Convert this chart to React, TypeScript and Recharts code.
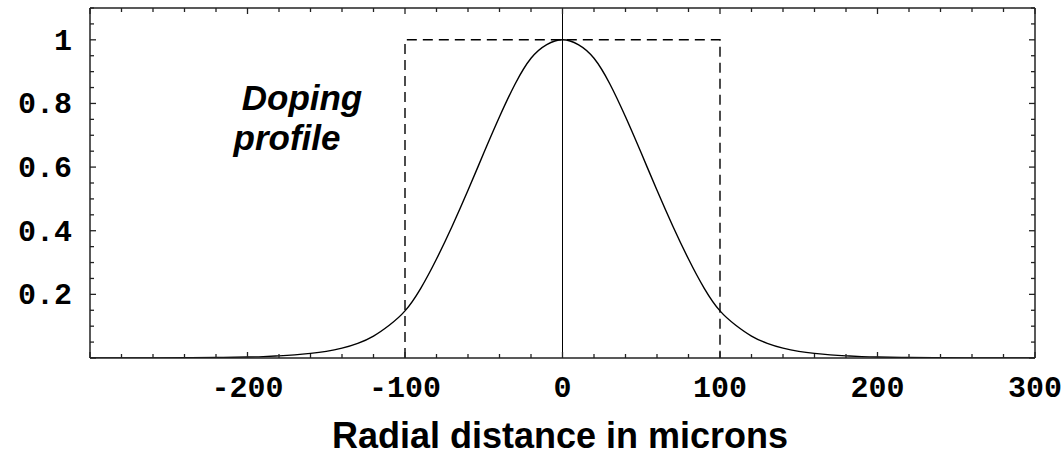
import React from 'react';
import { ComposedChart, Line, XAxis, YAxis, ReferenceLine } from 'recharts';

// Radial positions (microns) and the normalized doping profile
const xPositions = [
  -300, -280, -260, -240, -220, -200, -190, -180, -170, -160, -150, -140, -130, -120, -110,
  -100, -90, -80, -70, -60, -50, -40, -30, -20, -10, 0, 10, 20, 30, 40, 50, 60, 70, 80, 90,
  100, 110, 120, 130, 140, 150, 160, 170, 180, 190, 200, 220, 240, 260, 280, 300,
];
const profileValues = [
  0.0001, 0.0002, 0.0004, 0.0008, 0.0015, 0.003, 0.0044, 0.0066, 0.0098, 0.0145, 0.021, 0.031, 0.046, 0.069, 0.103,
  0.148, 0.219, 0.311, 0.415, 0.527, 0.644, 0.758, 0.862, 0.942, 0.985, 1.0, 0.985, 0.942, 0.862, 0.758, 0.644, 0.527, 0.415, 0.311, 0.219,
  0.148, 0.103, 0.069, 0.046, 0.031, 0.021, 0.0145, 0.0098, 0.0066, 0.0044, 0.003, 0.0015, 0.0008, 0.0004, 0.0002, 0.0001,
];

// Dashed step (rectangular) profile
const stepX = [-100, -100, 100, 100];
const stepY = [0, 1, 1, 0];

// Axis ticks and labels
const xTickValues = [
  -300, -280, -260, -240, -220, -200, -180, -160, -140, -120, -100, -80, -60, -40, -20, 0,
  20, 40, 60, 80, 100, 120, 140, 160, 180, 200, 220, 240, 260, 280, 300,
];
const xMajorValues = [-300, -200, -100, 0, 100, 200, 300];
const xLabelValues = [-200, -100, 0, 100, 200, 300];
const yTickValues = [
  0, 0.05, 0.1, 0.15, 0.2, 0.25, 0.3, 0.35, 0.4, 0.45, 0.5, 0.55, 0.6, 0.65, 0.7, 0.75, 0.8,
  0.85, 0.9, 0.95, 1, 1.05, 1.1,
];
const yMajorValues = [0, 0.2, 0.4, 0.6, 0.8, 1];
const yLabelValues = [0.2, 0.4, 0.6, 0.8, 1];
const yLabelText = ['0.2', '0.4', '0.6', '0.8', '1'];

const xTitle = 'Radial distance in microns';
const noteLines = ['Doping', 'profile'];

const profileData = xPositions.map((x, i) => ({ x, v: profileValues[i] }));
const stepData = stepX.map((x, i) => ({ x, s: stepY[i] }));

const FRAME = '#222';
const MAJOR = 6;
const MINOR = 4;
const monoStyle: React.CSSProperties = {
  fontFamily: '"Liberation Mono", "DejaVu Sans Mono", monospace',
  fontWeight: 700,
  fontSize: 30,
  fill: '#000',
};
const noteStyle: React.CSSProperties = {
  fontFamily: '"Liberation Sans", Arial, sans-serif',
  fontWeight: 700,
  fontStyle: 'italic',
  fontSize: 35,
  fill: '#000',
};

const near = (a: number, list: number[]) => list.some((b) => Math.abs(a - b) < 1e-6);

const BottomTick = (props: any) => {
  const { x, y, payload } = props;
  const v = payload.value;
  const len = near(v, xMajorValues) ? MAJOR : MINOR;
  return (
    <g>
      <line x1={x} x2={x} y1={y} y2={y - len} stroke={FRAME} strokeWidth={1.3} />
      {near(v, xLabelValues) && (
        <text x={x} y={y + 39} textAnchor="middle" style={monoStyle}>
          {String(v)}
        </text>
      )}
    </g>
  );
};

const TopTick = (props: any) => {
  const { x, y, payload } = props;
  const v = payload.value;
  const len = near(v, xMajorValues) ? MAJOR : MINOR;
  return <line x1={x} x2={x} y1={y} y2={y + len} stroke={FRAME} strokeWidth={1.3} />;
};

const LeftTick = (props: any) => {
  const { x, y, payload } = props;
  const v = payload.value;
  const len = near(v, yMajorValues) ? MAJOR : MINOR;
  const idx = yLabelValues.findIndex((b) => Math.abs(b - v) < 1e-6);
  return (
    <g>
      <line x1={x} x2={x + len} y1={y} y2={y} stroke={FRAME} strokeWidth={1.3} />
      {idx >= 0 && (
        <text x={x - 18} y={y + 10} textAnchor="end" style={monoStyle}>
          {yLabelText[idx]}
        </text>
      )}
    </g>
  );
};

const RightTick = (props: any) => {
  const { x, y, payload } = props;
  const v = payload.value;
  const len = near(v, yMajorValues) ? MAJOR : MINOR;
  return <line x1={x} x2={x - len} y1={y} y2={y} stroke={FRAME} strokeWidth={1.3} />;
};

export default function App() {
  return (
    <div style={{ position: 'absolute', left: 0, top: 0, width: 1063, height: 467, background: '#fff' }}>
      <ComposedChart width={1063} height={467} data={profileData} margin={{ top: 0, right: 0, bottom: 0, left: 0 }}>
        <XAxis
          xAxisId="b"
          dataKey="x"
          type="number"
          orientation="bottom"
          domain={[-300, 300]}
          ticks={xTickValues}
          interval={0}
          height={109}
          tickSize={0}
          tickMargin={0}
          tickLine={false}
          tick={<BottomTick />}
          axisLine={{ stroke: FRAME, strokeWidth: 1.5 }}
          allowDataOverflow
        />
        <XAxis
          xAxisId="t"
          dataKey="x"
          type="number"
          orientation="top"
          domain={[-300, 300]}
          ticks={xTickValues}
          interval={0}
          height={8}
          tickSize={0}
          tickMargin={0}
          tickLine={false}
          tick={<TopTick />}
          axisLine={{ stroke: FRAME, strokeWidth: 1.5 }}
          allowDataOverflow
        />
        <YAxis
          yAxisId="l"
          type="number"
          orientation="left"
          domain={[0, 1.1]}
          ticks={yTickValues}
          interval={0}
          width={90}
          tickSize={0}
          tickMargin={0}
          tickLine={false}
          tick={<LeftTick />}
          axisLine={{ stroke: FRAME, strokeWidth: 1.5 }}
          allowDataOverflow
        />
        <YAxis
          yAxisId="r"
          type="number"
          orientation="right"
          domain={[0, 1.1]}
          ticks={yTickValues}
          interval={0}
          width={28}
          tickSize={0}
          tickMargin={0}
          tickLine={false}
          tick={<RightTick />}
          axisLine={{ stroke: FRAME, strokeWidth: 1.5 }}
          allowDataOverflow
        />
        <ReferenceLine xAxisId="b" yAxisId="l" x={0} stroke="#000" strokeWidth={1} />
        <Line
          xAxisId="b"
          yAxisId="l"
          data={stepData}
          dataKey="s"
          type="linear"
          stroke="#000"
          strokeWidth={1.4}
          strokeDasharray="10 6"
          dot={false}
          activeDot={false}
          isAnimationActive={false}
        />
        <Line
          xAxisId="b"
          yAxisId="l"
          dataKey="v"
          type="natural"
          stroke="#000"
          strokeWidth={1.4}
          dot={false}
          activeDot={false}
          isAnimationActive={false}
        />
      </ComposedChart>
      <svg width={1063} height={467} style={{ position: 'absolute', left: 0, top: 0, pointerEvents: 'none' }}>
        <text x={302} y={110} textAnchor="middle" style={noteStyle}>
          {noteLines[0]}
        </text>
        <text x={287} y={150} textAnchor="middle" style={noteStyle}>
          {noteLines[1]}
        </text>
        <text
          x={560}
          y={448}
          textAnchor="middle"
          style={{ fontFamily: '"Liberation Sans", Arial, sans-serif', fontWeight: 700, fontSize: 36, fill: '#000' }}
        >
          {xTitle}
        </text>
      </svg>
    </div>
  );
}
